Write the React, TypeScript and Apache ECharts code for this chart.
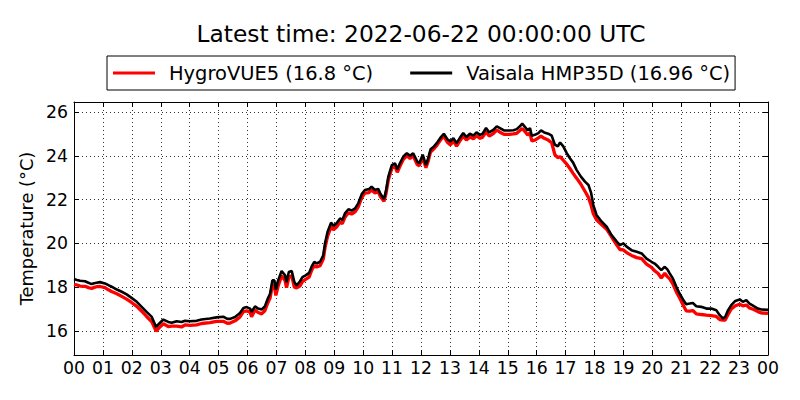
import React, { useEffect, useRef } from "react";
import * as echarts from "echarts";

const TITLE = "Latest time: 2022-06-22 00:00:00 UTC";
const NAME_HYGRO = "HygroVUE5 (16.8 °C)";
const NAME_VAISALA = "Vaisala HMP35D (16.96 °C)";
const Y_NAME = "Temperature (°C)";

const Y_MIN = 14.9;
const Y_MAX = 26.46;
const Y_TICKS = [16, 18, 20, 22, 24, 26];
const X_MIN = 0;
const X_MAX = 24;
const X_GRID = [1, 2, 3, 4, 5, 6, 7, 8, 9, 10, 11, 12, 13, 14, 15, 16, 17, 18, 19, 20, 21, 22, 23];

// hours since 00 UTC
const HOURS = [
  0.0, 0.1, 0.21, 0.38, 0.5, 0.61, 0.7, 0.78, 0.9, 1.07, 1.19, 1.3, 1.48, 1.65, 1.82, 1.99,
  2.17, 2.34, 2.51, 2.69, 2.84, 2.95, 3.09, 3.26, 3.38, 3.55, 3.72, 3.84, 4.01, 4.24, 4.41,
  4.7, 4.93, 5.16, 5.3, 5.4, 5.57, 5.74, 5.86, 5.97, 6.09, 6.14, 6.26, 6.37, 6.49, 6.6, 6.7,
  6.78, 6.86, 6.93, 6.98, 7.06, 7.18, 7.3, 7.35, 7.43, 7.53, 7.62, 7.7, 7.81, 7.9, 8.01,
  8.13, 8.22, 8.31, 8.39, 8.51, 8.62, 8.68, 8.77, 8.89, 8.97, 9.08, 9.2, 9.28, 9.37, 9.49,
  9.6, 9.72, 9.83, 9.95, 10.06, 10.2, 10.29, 10.41, 10.52, 10.6, 10.72, 10.79, 10.87, 10.99,
  11.1, 11.18, 11.27, 11.39, 11.51, 11.62, 11.73, 11.87, 11.94, 12.06, 12.17, 12.25, 12.33,
  12.45, 12.56, 12.69, 12.79, 12.91, 13.02, 13.12, 13.23, 13.34, 13.46, 13.57, 13.69, 13.81,
  13.92, 14.04, 14.13, 14.25, 14.36, 14.5, 14.62, 14.73, 14.87, 15.05, 15.2, 15.31, 15.42,
  15.5, 15.6, 15.69, 15.77, 15.83, 15.94, 16.06, 16.15, 16.26, 16.4, 16.52, 16.63, 16.73,
  16.81, 16.92, 17.04, 17.15, 17.26, 17.38, 17.53, 17.67, 17.79, 17.88, 17.96, 18.07, 18.25,
  18.42, 18.59, 18.77, 18.88, 19.0, 19.11, 19.28, 19.46, 19.63, 19.8, 19.97, 20.08, 20.2,
  20.31, 20.43, 20.52, 20.6, 20.71, 20.83, 20.94, 21.06, 21.17, 21.29, 21.4, 21.52, 21.69,
  21.87, 22.04, 22.21, 22.33, 22.44, 22.52, 22.62, 22.73, 22.87, 23.02, 23.13, 23.25, 23.36,
  23.51, 23.65, 23.77, 24.0,
];

const VAISALA = [
  18.37, 18.33, 18.29, 18.27, 18.2, 18.14, 18.18, 18.2, 18.23, 18.17, 18.09, 18.02, 17.89,
  17.79, 17.67, 17.51, 17.33, 17.1, 16.87, 16.64, 16.18, 16.34, 16.52, 16.41, 16.37, 16.44,
  16.41, 16.46, 16.44, 16.46, 16.52, 16.57, 16.62, 16.65, 16.55, 16.55, 16.64, 16.82, 17.05,
  17.09, 17.02, 16.87, 17.12, 17.02, 16.98, 17.12, 17.47, 17.7, 18.31, 18.31, 17.89, 18.31,
  18.74, 18.54, 18.23, 18.69, 18.74, 18.23, 18.08, 18.26, 18.46, 18.54, 18.65, 18.95, 19.16,
  19.08, 19.16, 19.46, 20.0, 20.53, 20.95, 20.8, 20.92, 21.14, 21.07, 21.37, 21.56, 21.5,
  21.6, 21.83, 22.25, 22.44, 22.48, 22.59, 22.44, 22.49, 22.26, 22.03, 22.41, 23.05, 23.58,
  23.66, 23.39, 23.66, 23.97, 24.12, 24.0, 24.12, 23.74, 23.66, 24.05, 23.58, 23.89, 24.3,
  24.43, 24.61, 24.86, 25.01, 24.76, 24.66, 24.81, 24.58, 24.81, 25.04, 24.86, 25.01, 24.92,
  25.07, 24.96, 25.01, 25.27, 25.07, 25.19, 25.35, 25.27, 25.16, 25.16, 25.17, 25.22, 25.35,
  25.47, 25.31, 25.16, 25.27, 24.92, 24.96, 25.04, 25.16, 25.07, 25.01, 24.92, 24.51, 24.43,
  24.61, 24.43, 24.12, 23.89, 23.69, 23.36, 23.05, 22.82, 22.67, 22.32, 21.75, 21.3, 20.99,
  20.76, 20.38, 20.08, 19.92, 20.0, 19.85, 19.69, 19.62, 19.54, 19.3, 19.16, 19.08, 18.93,
  18.78, 18.93, 18.81, 18.63, 18.4, 18.02, 17.71, 17.44, 17.22, 17.25, 17.28, 17.13, 17.1,
  17.02, 17.02, 16.95, 16.72, 16.57, 16.64, 16.95, 17.18, 17.37, 17.44, 17.33, 17.41, 17.25,
  17.13, 17.02, 16.98, 16.96,
];

const HYGROVUE = [
  18.12, 18.1, 18.05, 18.04, 17.98, 17.94, 17.99, 18.02, 18.03, 17.98, 17.88, 17.8, 17.7,
  17.58, 17.45, 17.3, 17.12, 16.9, 16.66, 16.42, 15.99, 16.15, 16.33, 16.2, 16.22, 16.22,
  16.18, 16.28, 16.25, 16.28, 16.34, 16.38, 16.44, 16.44, 16.35, 16.36, 16.46, 16.64, 16.88,
  16.92, 16.85, 16.65, 16.95, 16.84, 16.78, 16.92, 17.28, 17.5, 18.1, 18.05, 17.62, 18.05,
  18.52, 18.3, 17.98, 18.45, 18.52, 18.0, 17.97, 18.05, 18.25, 18.36, 18.46, 18.78, 18.98,
  18.92, 18.98, 19.28, 19.8, 20.33, 20.76, 20.62, 20.75, 20.97, 20.9, 21.2, 21.4, 21.34,
  21.44, 21.67, 22.1, 22.3, 22.32, 22.44, 22.3, 22.36, 22.13, 21.92, 22.28, 22.9, 23.43,
  23.52, 23.25, 23.52, 23.84, 24.0, 23.88, 24.0, 23.6, 23.55, 23.92, 23.46, 23.77, 24.18,
  24.32, 24.5, 24.75, 24.9, 24.62, 24.5, 24.68, 24.44, 24.67, 24.9, 24.72, 24.86, 24.78,
  24.92, 24.8, 24.85, 25.1, 24.9, 25.02, 25.18, 25.08, 24.98, 24.98, 25.0, 25.03, 25.16,
  25.25, 25.1, 24.95, 25.05, 24.68, 24.72, 24.82, 24.9, 24.8, 24.72, 24.6, 24.05, 23.92,
  23.96, 23.8, 23.62, 23.42, 23.2, 22.98, 22.7, 22.38, 22.1, 21.75, 21.35, 21.08, 20.85,
  20.65, 20.3, 19.92, 19.72, 19.7, 19.58, 19.45, 19.35, 19.3, 19.05, 18.9, 18.75, 18.62,
  18.42, 18.63, 18.48, 18.38, 18.15, 17.78, 17.52, 17.2, 16.92, 16.9, 16.93, 16.78, 16.75,
  16.72, 16.7, 16.66, 16.52, 16.49, 16.5, 16.75, 17.0, 17.15, 17.22, 17.15, 17.18, 17.05,
  16.98, 16.88, 16.82, 16.8,
];

const FONT = "DejaVu Sans";

export default function App() {
  const ref = useRef<HTMLDivElement>(null);

  useEffect(() => {
    if (!ref.current) return;
    const chart = echarts.init(ref.current, null, { renderer: "svg" });

    const pairs = (vals: number[]) => HOURS.map((h, i) => [h, vals[i]]);
    const hourFmt = (v: number) => String(Math.round(v) % 24).padStart(2, "0");

    const dotted = { color: "#000", width: 0.8, type: [1, 3] as any };
    const axLine = { show: true, onZero: false, lineStyle: { color: "#000", width: 1 } };
    const tick = { show: true, inside: true, length: 5, lineStyle: { color: "#000", width: 1 } };

    const xBase = {
      type: "value" as const,
      min: X_MIN,
      max: X_MAX,
      interval: 1,
      axisLine: axLine,
      axisTick: tick,
      splitLine: { show: false },
    };
    const yBase = {
      type: "value" as const,
      min: Y_MIN,
      max: Y_MAX,
      axisLine: axLine,
      axisTick: { ...tick, customValues: Y_TICKS },
      splitLine: { show: false },
    };

    chart.setOption({
      animation: false,
      backgroundColor: "#fff",
      textStyle: { fontFamily: FONT },
      grid: { left: 74, right: 32, top: 102, bottom: 45, containLabel: false },
      legend: {
        left: 107,
        top: 56,
        orient: "horizontal",
        backgroundColor: "#fff",
        borderColor: "#000",
        borderWidth: 1,
        borderRadius: 0,
        padding: [6, 5, 6, 6],
        itemWidth: 42,
        itemHeight: 3,
        itemGap: 37,
        icon: "rect",
        textStyle: {
          fontFamily: FONT,
          fontSize: 19.44,
          color: "#000",
          lineHeight: 22,
          padding: [0, 0, 0, 9],
        },
        data: [NAME_HYGRO, NAME_VAISALA],
      },
      graphic: [
        {
          type: "text",
          x: 421,
          y: 34,
          style: {
            text: TITLE,
            fontFamily: FONT,
            fontSize: 23.33,
            fill: "#000",
            textAlign: "center",
            textVerticalAlign: "middle",
          },
        },
      ],
      xAxis: [
        {
          ...xBase,
          position: "bottom",
          axisLabel: {
            show: true,
            formatter: hourFmt,
            fontFamily: FONT,
            fontSize: 17.3,
            color: "#000",
            margin: 4,
          },
        },
        {
          ...xBase,
          position: "top",
          axisLabel: { show: false },
        },
      ],
      yAxis: [
        {
          ...yBase,
          position: "left",
          name: Y_NAME,
          nameLocation: "middle",
          nameRotate: 90,
          nameGap: 35,
          nameTextStyle: { fontFamily: FONT, fontSize: 17.8, color: "#000" },
          axisLabel: {
            show: true,
            customValues: Y_TICKS,
            formatter: (v: number) => String(v),
            fontFamily: FONT,
            fontSize: 17.3,
            color: "#000",
            margin: 6,
          },
        },
        {
          ...yBase,
          position: "right",
          axisLabel: { show: false },
        },
      ],
      series: [
        {
          name: "grid",
          type: "line",
          xAxisIndex: 0,
          yAxisIndex: 0,
          data: [],
          silent: true,
          z: 1,
          markLine: {
            silent: true,
            symbol: "none",
            z: 1,
            label: { show: false },
            lineStyle: dotted,
            emphasis: { disabled: true },
            data: [
              ...Y_TICKS.map((v) => ({ yAxis: v })),
              ...X_GRID.map((h) => ({ xAxis: h })),
            ],
          },
        },
        {
          name: NAME_HYGRO,
          type: "line",
          xAxisIndex: 0,
          yAxisIndex: 0,
          data: pairs(HYGROVUE),
          showSymbol: false,
          symbol: "none",
          color: "#ff0000",
          lineStyle: { color: "#ff0000", width: 3.3 },
          z: 3,
        },
        {
          name: NAME_VAISALA,
          type: "line",
          xAxisIndex: 0,
          yAxisIndex: 0,
          data: pairs(VAISALA),
          showSymbol: false,
          symbol: "none",
          color: "#000000",
          lineStyle: { color: "#000000", width: 2.6 },
          z: 4,
        },
      ],
    });

    return () => chart.dispose();
  }, []);

  return (
    <div
      ref={ref}
      style={{ position: "fixed", left: 0, top: 0, width: 800, height: 400, background: "#fff" }}
    />
  );
}
